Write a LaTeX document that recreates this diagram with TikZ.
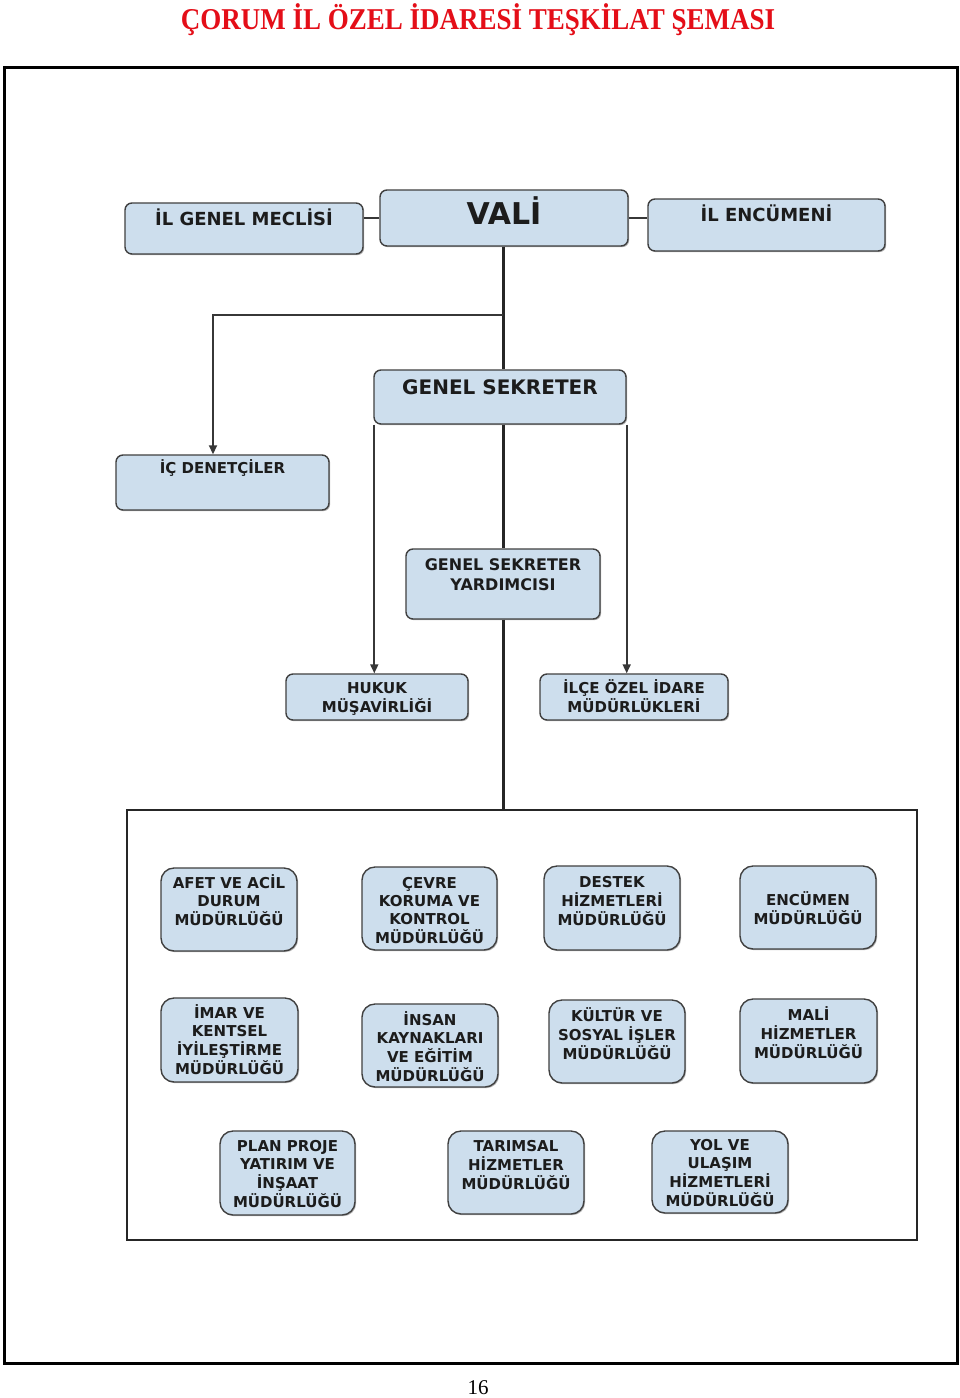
\documentclass[tikz,border=0pt]{standalone}
\usepackage{graphicx}
\usepackage{fontspec}
\setmainfont{Liberation Serif}
\newfontfamily\boxfont{DejaVu Sans}
\usetikzlibrary{arrows.meta,shadows}
\definecolor{boxfill}{RGB}{205,222,237}
\definecolor{boxline}{RGB}{64,64,64}
\definecolor{titlered}{RGB}{228,14,24}
\definecolor{txtc}{RGB}{28,28,28}
\definecolor{linec}{RGB}{55,55,55}
\tikzset{
  obox/.style={draw=boxline, line width=1.4pt, fill=boxfill, rounded corners=7pt, inner sep=0pt,
    drop shadow={shadow xshift=1.2pt, shadow yshift=-1.2pt, opacity=0.3, fill=black}},
  ubox/.style={obox, rounded corners=13pt},
  txt/.style={text=txtc, inner sep=0pt, anchor=base, font=\boxfont\bfseries\fontsize{15}{18}\selectfont},
  thinline/.style={draw=linec, line width=1.7pt},
  spine/.style={draw=black!85, line width=3pt},
  arr/.style={thinline, -{Triangle[width=8pt,length=9pt]}},
}
\newcommand{\lines}[1]{\begin{tabular}[t]{@{}c@{}}#1\end{tabular}}
\begin{document}
\begin{tikzpicture}[x=1pt,y=-1pt]
\useasboundingbox[fill=white] (0,0) rectangle (960,1398);
% title and frame
\node[text=titlered, inner sep=0pt, anchor=base, font=\bfseries\fontsize{27}{30}\selectfont] (title) at (478,29) {\scalebox{1}[1.12]{ÇORUM İL ÖZEL İDARESİ TEŞKİLAT ŞEMASI}};
\node[draw=black, line width=3pt, minimum width=953pt, minimum height=1296pt, inner sep=0pt] (frame) at (480.5,715) {};
\node[inner sep=0pt, anchor=base, font=\fontsize{21}{24}\selectfont] (page) at (478,1394) {16};

% top boxes
\node[obox, minimum width=238pt, minimum height=51pt] (meclis) at (244,228.5) {};
\node[obox, minimum width=248pt, minimum height=56pt] (vali) at (504,218) {};
\node[obox, minimum width=237pt, minimum height=52pt] (encumen) at (766.5,225) {};
\node[obox, minimum width=252pt, minimum height=54pt] (gs) at (500,397) {};
\node[obox, minimum width=213pt, minimum height=55pt] (ic) at (222.5,482.5) {};
\node[obox, minimum width=194pt, minimum height=70pt] (gsy) at (503,584) {};
\node[obox, minimum width=182pt, minimum height=46pt] (hukuk) at (377,697) {};
\node[obox, minimum width=188pt, minimum height=46pt] (ilce) at (634,697) {};

\node[txt, font=\boxfont\bfseries\fontsize{18}{21}\selectfont] (tmeclis) at (244,225) {İL GENEL MECLİSİ};
\node[txt, font=\boxfont\bfseries\fontsize{30}{34}\selectfont] (tvali) at (504,224) {VALİ};
\node[txt, font=\boxfont\bfseries\fontsize{18}{21}\selectfont] (tencumen) at (766.5,221) {İL ENCÜMENİ};
\node[txt, font=\boxfont\bfseries\fontsize{20}{23}\selectfont] (tgs) at (500,394.5) {GENEL SEKRETER};
\node[txt] (tic) at (222.5,473) {İÇ DENETÇİLER};
\node[txt, font=\boxfont\bfseries\fontsize{16}{20}\selectfont] (tgsy) at (503,570) {\lines{GENEL SEKRETER\\YARDIMCISI}};
\node[txt] (thukuk) at (377,693) {\lines{HUKUK\\MÜŞAVİRLİĞİ}};
\node[txt] (tilce) at (634,693) {\lines{İLÇE ÖZEL İDARE\\MÜDÜRLÜKLERİ}};

% big box
\node[draw=black!85, line width=2.5pt, minimum width=790pt, minimum height=430pt, inner sep=0pt] (big) at (522,1025) {};

% bottom boxes
\node[ubox, minimum width=136pt, minimum height=83pt] (afet) at (229,909.5) {};
\node[ubox, minimum width=135pt, minimum height=83pt] (cevre) at (429.5,908.5) {};
\node[ubox, minimum width=136pt, minimum height=84pt] (destek) at (612,908) {};
\node[ubox, minimum width=136pt, minimum height=83pt] (encmud) at (808,907.5) {};
\node[ubox, minimum width=137pt, minimum height=84pt] (imar) at (229.5,1040) {};
\node[ubox, minimum width=136pt, minimum height=83pt] (insan) at (430,1045.5) {};
\node[ubox, minimum width=136pt, minimum height=83pt] (kultur) at (617,1041.5) {};
\node[ubox, minimum width=137pt, minimum height=84pt] (mali) at (808.5,1041) {};
\node[ubox, minimum width=135pt, minimum height=84pt] (plan) at (287.5,1173) {};
\node[ubox, minimum width=136pt, minimum height=83pt] (tarim) at (516,1172.5) {};
\node[ubox, minimum width=136pt, minimum height=82pt] (yol) at (720,1172) {};

\node[txt] (tafet) at (229,888) {\lines{AFET VE ACİL\\DURUM\\MÜDÜRLÜĞÜ}};
\node[txt] (tcevre) at (429.5,888) {\lines{ÇEVRE\\KORUMA VE\\KONTROL\\MÜDÜRLÜĞÜ}};
\node[txt] (tdestek) at (612,887) {\lines{DESTEK\\HİZMETLERİ\\MÜDÜRLÜĞÜ}};
\node[txt] (tencmud) at (808,905) {\lines{ENCÜMEN\\MÜDÜRLÜĞÜ}};
\node[txt] (timar) at (229.5,1018) {\lines{İMAR VE\\KENTSEL\\İYİLEŞTİRME\\MÜDÜRLÜĞÜ}};
\node[txt] (tinsan) at (430,1025) {\lines{İNSAN\\KAYNAKLARI\\VE EĞİTİM\\MÜDÜRLÜĞÜ}};
\node[txt] (tkultur) at (617,1021) {\lines{KÜLTÜR VE\\SOSYAL İŞLER\\MÜDÜRLÜĞÜ}};
\node[txt] (tmali) at (808.5,1020) {\lines{MALİ\\HİZMETLER\\MÜDÜRLÜĞÜ}};
\node[txt] (tplan) at (287.5,1151) {\lines{PLAN PROJE\\YATIRIM VE\\İNŞAAT\\MÜDÜRLÜĞÜ}};
\node[txt] (ttarim) at (516,1151) {\lines{TARIMSAL\\HİZMETLER\\MÜDÜRLÜĞÜ}};
\node[txt] (tyol) at (720,1150) {\lines{YOL VE\\ULAŞIM\\HİZMETLERİ\\MÜDÜRLÜĞÜ}};

% connectors
\coordinate (sp) at (503,315);
\draw[thinline] (vali.west) -- (vali.west -| meclis.east);
\draw[thinline] (vali.east) -- (vali.east -| encumen.west);
\draw[spine] (sp |- vali.south) -- (sp |- gs.north);
\draw[arr] (sp) -| ([xshift=-9.5pt]ic.north);
\draw[spine] (sp |- gs.south) -- (sp |- gsy.north);
\draw[arr] ([xshift=1pt]gs.south west) -- ([xshift=1pt]gs.south west |- hukuk.north);
\draw[arr] (gs.south east) -- (gs.south east |- ilce.north);
\draw[spine] (sp |- gsy.south) -- (sp |- big.north);
\end{tikzpicture}
\end{document}
